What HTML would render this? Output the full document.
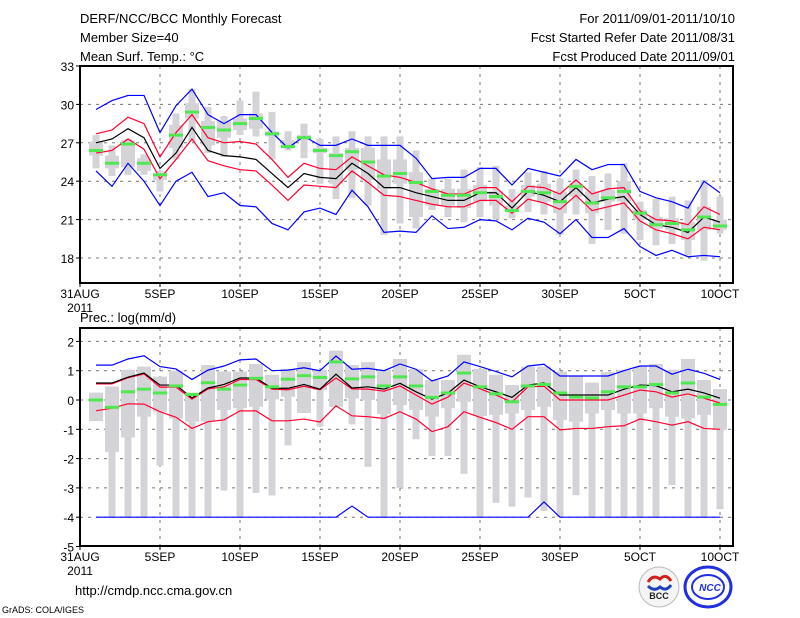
<!DOCTYPE html>
<html><head><meta charset="utf-8"><style>
body{margin:0;background:#fff;width:800px;height:618px;overflow:hidden}
svg{display:block;font-family:"Liberation Sans",sans-serif}
</style></head><body>
<svg id="chart" width="800" height="618" viewBox="0 0 800 618" xmlns="http://www.w3.org/2000/svg">
<text x="80" y="23" font-size="13">DERF/NCC/BCC Monthly Forecast</text>
<text x="80" y="42" font-size="13">Member Size=40</text>
<text x="80" y="61" font-size="13">Mean Surf. Temp.: °C</text>
<text x="735" y="23" font-size="13" text-anchor="end">For 2011/09/01-2011/10/10</text>
<text x="735" y="42" font-size="13" text-anchor="end">Fcst Started Refer Date 2011/08/31</text>
<text x="735" y="61" font-size="13" text-anchor="end">Fcst Produced Date 2011/09/01</text>
<text x="80" y="322" font-size="13">Prec.: log(mm/d)</text>
<text x="75" y="595" font-size="13">http://cmdp.ncc.cma.gov.cn</text>
<text x="2" y="613" font-size="9">GrADS: COLA/IGES</text>
<g>
<circle cx="659" cy="587" r="20" fill="#f4f4f4" stroke="#bbb"/>
<path d="M648 582 q5 -8 12 -3 q6 -6 11 2" fill="none" stroke="#d02020" stroke-width="3"/>
<path d="M648 586 q6 6 12 1 q6 5 11 -2" fill="none" stroke="#2040c0" stroke-width="3"/>
<text x="659" y="599" font-size="9" font-weight="bold" text-anchor="middle" fill="#222">BCC</text>
</g>
<g>
<ellipse cx="708" cy="587" rx="23" ry="20" fill="none" stroke="#2030e0" stroke-width="3"/>
<ellipse cx="708" cy="587" rx="16" ry="12" fill="none" stroke="#2030e0" stroke-width="2"/>
<text x="710" y="591" font-size="10" font-weight="bold" font-style="italic" text-anchor="middle" fill="#2030e0">NCC</text>
</g>
</svg>
<script>
// ---- data ----
const days = [];for(let i=1;i<=40;i++)days.push(i);
const tempMean=[27.0,27.3,28.1,27.4,25.0,26.2,28.2,26.4,26.0,25.9,25.7,24.6,23.5,24.6,24.3,24.2,25.4,24.6,23.5,23.5,23.1,22.8,22.5,22.5,23.1,23.1,21.9,23.2,22.9,22.4,23.5,22.3,22.6,22.8,21.4,20.6,20.4,20.0,21.2,20.8];
const tempRedHi=[27.7,28.0,29.0,28.5,25.9,27.8,29.2,27.4,27.0,27.1,26.9,25.7,24.3,25.4,25.0,24.9,25.9,25.2,24.5,24.3,23.9,23.4,23.0,23.0,23.5,23.5,22.4,23.6,23.5,23.0,24.1,23.0,23.4,23.5,21.7,21.0,20.9,20.6,22.0,21.4];
const tempRedLo=[26.2,26.4,27.3,26.5,24.2,25.7,27.3,25.6,25.2,24.9,24.8,23.7,22.5,23.7,23.6,23.5,24.8,23.9,22.9,22.8,22.5,22.2,22.0,22.0,22.5,22.5,21.5,22.6,22.3,21.8,22.9,21.7,22.0,22.3,20.9,20.2,19.9,19.5,20.4,20.2];
const tempBlueHi=[29.6,30.3,30.7,30.7,27.8,29.9,31.2,29.2,28.5,29.2,29.2,27.8,26.6,27.5,26.8,26.8,27.3,26.8,26.8,26.8,25.8,24.2,24.3,24.3,25.0,25.0,23.7,25.0,24.7,24.4,25.7,24.9,25.3,25.3,23.2,22.7,22.4,21.9,24.0,23.1];
const tempBlueLo=[24.8,23.6,25.4,24.0,22.1,24.0,24.7,22.8,23.1,22.1,22.0,20.7,20.2,21.6,21.9,21.4,23.3,22.0,20.0,20.1,20.0,21.3,20.3,20.4,21.0,20.9,20.2,21.1,20.8,19.9,21.0,19.6,19.6,20.3,18.9,18.2,18.6,18.1,18.2,18.1];
const tempGreen=[26.4,25.4,26.9,25.4,24.5,27.6,29.4,28.2,28.0,28.5,28.9,27.7,26.7,27.4,26.4,26.0,26.3,25.5,24.4,24.6,23.9,23.2,22.9,22.9,23.1,22.8,21.7,23.2,23.1,22.4,23.6,22.3,22.7,23.2,21.5,20.6,20.7,20.2,21.2,20.5];
const tempWhiskHi=[27.6,26.8,27.3,26.1,24.8,29.3,31.2,29.8,29.1,30.3,31.0,29.4,27.9,28.5,27.3,27.5,27.9,27.5,27.5,27.5,26.4,24.2,24.2,24.9,25.1,25.2,23.4,24.7,24.8,24.2,24.9,24.4,24.6,25.4,22.4,22.6,22.8,22.5,24.1,22.8];
const tempWhiskLo=[25.0,24.4,24.5,24.5,23.2,25.7,27.1,26.2,25.9,27.6,27.5,25.7,26.4,25.8,23.8,22.6,22.7,22.1,19.8,20.7,20.3,21.75,21.2,20.8,21.2,21.0,21.1,21.6,21.4,19.8,21.4,19.1,20.2,19.9,19.4,19.0,19.1,18.2,17.8,19.9];
const tempBoxHi=[27.1,26.0,27.2,25.8,24.6,28.4,30.1,28.7,28.7,28.9,29.3,27.9,27.2,27.6,26.6,26.2,26.6,26.6,25.7,25.7,24.7,23.4,23.4,23.4,23.7,23.2,22.1,23.7,23.8,23.2,23.8,23.2,23.3,24.0,21.75,21.2,21.1,20.8,22.0,21.0];
const tempBoxLo=[26.0,25.0,25.1,24.8,24.1,26.6,28.9,26.8,27.4,28.0,28.1,27.5,26.6,27.2,26.2,23.8,24.9,24.1,23.4,23.8,21.2,22.1,22.1,21.9,22.4,22.1,21.6,22.8,22.4,21.5,22.8,21.5,22.4,22.4,21.0,20.3,20.2,19.4,20.2,20.2];

const prMean=[0.58,0.58,0.78,0.92,0.51,0.51,0.07,0.41,0.53,0.75,0.75,0.40,0.40,0.53,0.37,0.88,0.41,0.45,0.37,0.57,0.28,0.03,0.24,0.68,0.45,0.28,0.09,0.51,0.58,0.17,0.17,0.17,0.17,0.37,0.51,0.49,0.28,0.37,0.24,0.06];
const prRedHi=[0.55,0.55,0.76,0.89,0.44,0.44,0.03,0.38,0.45,0.70,0.70,0.37,0.35,0.47,0.35,0.75,0.38,0.37,0.30,0.48,0.17,-0.14,0.10,0.58,0.38,0.17,-0.07,0.45,0.47,0.0,0.0,0.0,0.0,0.17,0.34,0.28,0.10,0.21,0.06,-0.1];
const prRedLo=[-0.37,-0.28,-0.13,-0.14,-0.40,-0.59,-0.97,-0.74,-0.68,-0.37,-0.37,-0.71,-0.71,-0.65,-0.75,-0.2,-0.54,-0.57,-0.63,-0.40,-0.65,-1.08,-0.91,-0.40,-0.59,-0.77,-1.0,-0.57,-0.57,-1.02,-0.97,-0.97,-0.91,-0.88,-0.65,-0.74,-0.86,-0.74,-0.97,-1.0];
const prBlueHi=[1.19,1.19,1.4,1.51,1.14,1.06,0.70,1.02,1.16,1.37,1.40,1.0,1.02,1.1,1.0,1.5,1.05,1.08,1.0,1.23,1.05,0.65,0.82,1.3,1.14,0.97,0.79,1.16,1.22,0.82,0.82,0.82,0.82,1.0,1.16,1.16,0.88,1.05,0.91,0.70];
const prBlueLo=[-4,-4,-4,-4,-4,-4,-4,-4,-4,-4,-4,-4,-4,-4,-4,-4,-3.62,-4,-4,-4,-4,-4,-4,-4,-4,-4,-4,-4,-3.48,-4,-4,-4,-4,-4,-4,-4,-4,-4,-4,-4];
const prGreen=[0.0,-0.25,0.28,0.37,0.24,0.48,0.19,0.59,0.37,0.51,0.74,0.45,0.71,0.83,0.77,1.3,0.72,0.79,0.48,0.79,0.48,0.09,0.24,0.92,0.45,0.21,-0.06,0.48,0.53,0.24,0.10,0.07,0.28,0.45,0.45,0.53,0.24,0.58,0.10,-0.15];
const prWhiskHi=[0.25,0.46,1.03,1.14,0.80,1.0,0.25,1.19,0.97,0.97,1.23,0.86,1.06,1.29,1.03,1.68,1.19,1.29,1.03,1.40,1.06,0.68,0.68,1.54,1.06,0.86,0.51,1.14,1.14,0.97,0.82,0.59,0.95,1.03,1.14,1.23,1.03,1.40,0.68,0.37];
const prWhiskLo=[-0.72,-4,-4,-4,-2.24,-4,-4,-4,-3.09,-4,-3.17,-3.26,-1.55,-0.44,-0.9,-0.24,-0.83,-2.28,-4,-3.0,-1.34,-1.91,-1.91,-2.52,-4,-3.51,-3.64,-3.33,-3.79,-4,-3.25,-4,-4,-4,-4,-4,-2.9,-4,-4,-3.72];
const prBoxHi=[0.25,0.46,1.03,1.14,0.80,1.0,0.25,1.19,0.97,0.97,1.23,0.86,1.06,1.29,1.03,1.68,1.19,1.29,1.03,1.40,1.06,0.68,0.68,1.54,1.06,0.86,0.51,1.14,1.14,0.97,0.82,0.59,0.95,1.03,1.14,1.23,1.03,1.40,0.68,0.37];
const prBoxLo=[-0.72,-1.77,-1.28,-0.57,-0.4,-0.63,-0.74,-0.74,-0.34,-0.28,-0.23,0.02,0.11,-0.44,0.34,-0.24,0.06,0.0,-0.48,-0.17,-0.34,-0.57,-0.28,-0.06,-0.55,-0.51,-0.46,-0.34,-0.23,-0.68,-0.74,-0.46,-0.34,-0.46,-0.46,-0.28,-0.57,-0.63,-0.51,-1.02];

const xTickDays=[0,5,10,15,20,25,30,35,40];
const xTickLabels=["31AUG","5SEP","10SEP","15SEP","20SEP","25SEP","30SEP","5OCT","10OCT"];
const tempTicks=[33,30,27,24,21,18];
const prTicks=[2,1,0,-1,-2,-3,-4,-5];

// ---- drawing ----
const svg=document.getElementById('chart');
const NS='http://www.w3.org/2000/svg';
function mk(tag,attrs,parent){const e=document.createElementNS(NS,tag);for(const k in attrs)e.setAttribute(k,attrs[k]);(parent||svg).appendChild(e);return e;}
const X=d=>80+16*d;
const yT=v=>66+(33-v)*12.8;
const yP=v=>400-v*29.3;
const L=80,R=733;

function panel(name,top,bot,yS,ticks,s){
  const g=mk('g',{});
  
  
  ticks.forEach(t=>{
    const y=yS(t);
    const gl=mk('line',{x1:L,x2:R,y1:y,y2:y,stroke:'#777','stroke-dasharray':'3,5','stroke-width':1},g);
    
    
    mk('line',{x1:L-4,x2:L,y1:y,y2:y,stroke:'#000'},g);
    const tl=mk('text',{x:L-6,y:y+5,'font-size':12,'text-anchor':'end'},g);tl.textContent=t;
    
    
  });
  xTickDays.forEach((d,i)=>{
    const x=X(d);
    if(i>0){const vl=mk('line',{x1:x,x2:x,y1:top,y2:bot,stroke:'#777','stroke-dasharray':'3,5'},g);
      
      }
    mk('line',{x1:x,x2:x,y1:bot,y2:bot+4,stroke:'#000'},g);
    const tl=mk('text',{x:x,y:bot+15,'font-size':12,'text-anchor':'middle'},g);tl.textContent=xTickLabels[i];
    
    
  });
  const yr=mk('text',{x:X(0),y:bot+29,'font-size':12,'text-anchor':'middle'},g);yr.textContent='2011';
  
  
  // whiskers and boxes
  days.forEach((d,i)=>{
    const x=X(d);
    const w=mk('rect',{x:x-3.5,width:7,y:yS(s.wh[i]),height:Math.max(1,yS(s.wl[i])-yS(s.wh[i])),fill:'#d4d4d8'},g);
    
    
    const b=mk('rect',{x:x-7,width:14,y:yS(s.bh[i]),height:Math.max(1,yS(s.bl[i])-yS(s.bh[i])),fill:'#d4d4d8'},g);
    
    
  });
  const line=(arr,col,nm)=>{
    const p=mk('polyline',{points:arr.map((v,i)=>X(days[i])+','+yS(v)).join(' '),fill:'none',stroke:col,'stroke-width':1.2},g);
    
    
  };
  line(s.blh,'#0000ff','blue-upper-line');
  line(s.bll,'#0000ff','blue-lower-line');
  line(s.rh,'#ff0030','red-upper-line');
  line(s.rl,'#ff0030','red-lower-line');
  line(s.m,'#000','ensemble-mean-line');
  days.forEach((d,i)=>{
    const gr=mk('rect',{x:X(d)-7,width:14,y:yS(s.gr[i])-1.5,height:3,fill:'#50e850'},g);
    
    
  });
  const fr=mk('rect',{x:L,y:top,width:R-L,height:bot-top,fill:'none',stroke:'#000','stroke-width':2},g);
  
  
}
panel('temperature',66,283,yT,tempTicks,{m:tempMean,rh:tempRedHi,rl:tempRedLo,blh:tempBlueHi,bll:tempBlueLo,gr:tempGreen,wh:tempWhiskHi,wl:tempWhiskLo,bh:tempBoxHi,bl:tempBoxLo});
panel('precipitation',328,546,yP,prTicks,{m:prMean,rh:prRedHi,rl:prRedLo,blh:prBlueHi,bll:prBlueLo,gr:prGreen,wh:prWhiskHi,wl:prWhiskLo,bh:prBoxHi,bl:prBoxLo});
</script>
</body></html>
